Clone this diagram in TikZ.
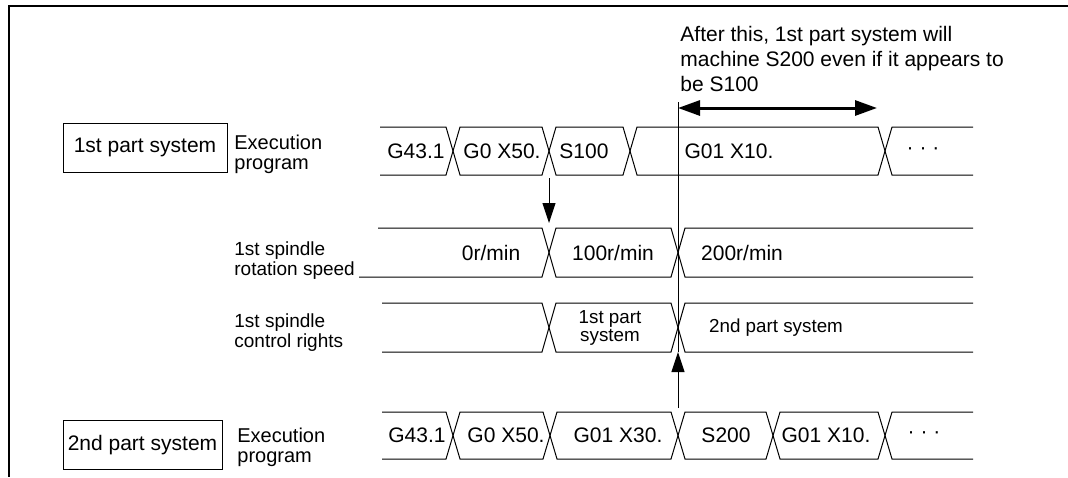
\documentclass[tikz,border=0pt]{standalone}
\usepackage{fontspec}
\setmainfont{Liberation Sans}
\usetikzlibrary{positioning,arrows.meta}
% open bus segment to the left / right, closed segment between two crossings
\newcommand{\busL}[4]{\draw[wave] (#3,#1) -- (#4-7,#1) -- (#4,{(#1+#2)/2}) -- (#4-7,#2) -- (#3,#2);}
\newcommand{\busR}[4]{\draw[wave] (#4,#1) -- (#3+7,#1) -- (#3,{(#1+#2)/2}) -- (#3+7,#2) -- (#4,#2);}
\newcommand{\busM}[4]{\draw[wave] (#3,{(#1+#2)/2}) -- (#3+7,#1) -- (#4-7,#1) -- (#4,{(#1+#2)/2}) -- (#4-7,#2) -- (#3+7,#2) -- cycle;}

\begin{document}
\begin{tikzpicture}[x=0.5pt,y=-0.5pt,font=\fontsize{10.5}{10}\selectfont,
    wave/.style={line width=0.5pt},
    sys/.style={draw,line width=0.5pt,minimum height=24.5pt,inner sep=0pt},
    lbl/.style={anchor=west,align=left,inner sep=0pt,font=\fontsize{10}{10}\selectfont},
    sm/.style={font=\fontsize{9.4}{9}\selectfont,align=center,inner sep=0pt},
    tip/.style={-{Triangle[length=10pt,width=6.5pt]},line width=0.5pt}]
  \useasboundingbox (0,0) rectangle (1068,477);
  \draw[line width=1.25pt] (1068,6) -- (9,6) -- (9,477);

  % part systems and signal names
  \node[sys,minimum width=82pt] (sys1) at (145,147.5) {1st part system};
  \node[sys,minimum width=79.5pt] (sys2) at (142.5,445) {2nd part system};
  \node[lbl] (prog1) at (234,154) {Execution\\program};
  \node[lbl,font=\fontsize{9.5}{10}\selectfont] (speed) at (234,261) {1st spindle\\rotation speed};
  \node[lbl,font=\fontsize{9.5}{10}\selectfont] (rights) at (234,333) {1st spindle\\control rights};
  \node[lbl] (prog2) at (237,447) {Execution\\program};

  % 1st part system program
  \busL{127}{175}{380}{453}
  \foreach \a/\b in {453/549,549/630,630/885} {\busM{127}{175}{\a}{\b}}
  \busR{127}{175}{885}{973}
  \node (p1a) at (416,151) {G43.1};
  \node (p1b) at (502,151) {G0 X50.};
  \node (p1c) at (584,151) {S100};
  \node (p1d) at (729,151) {G01 X10.};
  \node (p1e) at (923,151) {· · ·};

  % rotation speed
  \draw[wave] (378,228) -- (542,228) -- (549,252.5) -- (542,277) -- (359,277);
  \busM{228}{277}{549}{678}
  \busR{228}{277}{678}{973}
  \node (v0) at (491,252.5) {0r/min};
  \node (v100) at (613,252.5) {100r/min};
  \node (v200) at (742,252.5) {200r/min};

  % control rights
  \busL{303}{352}{382}{549}
  \busM{303}{352}{549}{678}
  \busR{303}{352}{678}{973}
  \node[sm] (r1) at (610,327.5) {1st part\\system};
  \node[sm] (r2) at (776,327.5) {2nd part system};

  % 2nd part system program
  \busL{412}{459}{382}{453}
  \foreach \a/\b in {453/550,550/678,678/773,773/885} {\busM{412}{459}{\a}{\b}}
  \busR{412}{459}{885}{973}
  \node (p2a) at (417,435.5) {G43.1};
  \node (p2b) at (506,435.5) {G0 X50.};
  \node (p2c) at (618,435.5) {G01 X30.};
  \node (p2d) at (726,435.5) {S200};
  \node (p2e) at (826,435.5) {G01 X10.};
  \node (p2f) at (924,435.5) {· · ·};

  % switch-over and note
  \coordinate (sw) at (678,102);
  \coordinate (swend) at (678,352);
  \coordinate (req) at (549,178);
  \coordinate (reqend) at (549,223);
  \coordinate (ack) at (678,408);
  \coordinate (range) at (678,108);
  \coordinate (rangeend) at (877,108);
  \draw[wave] (sw) -- (swend);
  \draw[tip] (req) -- (reqend);
  \draw[tip] (ack) -- (swend);
  \draw[{Triangle[length=11pt,width=7.5pt]}-{Triangle[length=11pt,width=7.5pt]},line width=1.5pt] (range) -- (rangeend);
  \node[lbl,font=\fontsize{10.5}{12.5}\selectfont] (note) at (680,59) {After this, 1st part system will\\machine S200 even if it appears to\\be S100};
\end{tikzpicture}
\end{document}
